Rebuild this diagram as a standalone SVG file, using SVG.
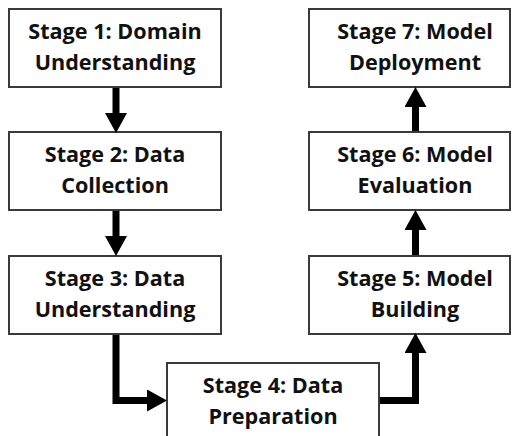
<svg xmlns="http://www.w3.org/2000/svg" width="512" height="436" viewBox="0 0 512 436">
  <style>
    .box { fill: #ffffff; stroke: #3a3a3a; stroke-width: 2; }
    .label { font-family: "Open Sans", Lato, "Liberation Sans", sans-serif; font-weight: 700; font-size: 21.6px; fill: #111111; text-anchor: middle; }
    .flow { fill: none; stroke: #000000; stroke-width: 7; stroke-linejoin: miter; }
  </style>
  <defs>
    <marker id="head" viewBox="0 0 20 22" markerWidth="20" markerHeight="22" markerUnits="userSpaceOnUse" refX="0" refY="11" orient="auto">
      <path d="M0 0 L20 11 L0 22 Z" fill="#000000"/>
    </marker>
  </defs>
  <rect width="512" height="436" fill="#ffffff"/>

  <g id="stage1">
    <rect class="box" x="9" y="9" width="212" height="78"/>
    <text class="label" x="115" y="38.5">Stage 1: Domain</text>
    <text class="label" x="115" y="69.5">Understanding</text>
  </g>
  <g id="stage2">
    <rect class="box" x="9" y="132" width="212" height="78"/>
    <text class="label" x="115" y="162">Stage 2: Data</text>
    <text class="label" x="115" y="193">Collection</text>
  </g>
  <g id="stage3">
    <rect class="box" x="9" y="256" width="212" height="78"/>
    <text class="label" x="115" y="286">Stage 3: Data</text>
    <text class="label" x="115" y="317">Understanding</text>
  </g>
  <g id="stage4">
    <rect class="box" x="167" y="363" width="212" height="82"/>
    <text class="label" x="273" y="393">Stage 4: Data</text>
    <text class="label" x="273" y="424">Preparation</text>
  </g>
  <g id="stage5">
    <rect class="box" x="309" y="256" width="201" height="78"/>
    <text class="label" x="415" y="286">Stage 5: Model</text>
    <text class="label" x="415" y="317">Building</text>
  </g>
  <g id="stage6">
    <rect class="box" x="309" y="132" width="201" height="78"/>
    <text class="label" x="415" y="162">Stage 6: Model</text>
    <text class="label" x="415" y="193">Evaluation</text>
  </g>
  <g id="stage7">
    <rect class="box" x="309" y="9" width="201" height="78"/>
    <text class="label" x="415" y="38.5">Stage 7: Model</text>
    <text class="label" x="415" y="69.5">Deployment</text>
  </g>

  <g id="connectors">
    <path class="flow" d="M116 88 V113" marker-end="url(#head)"/>
    <path class="flow" d="M116 211 V236" marker-end="url(#head)"/>
    <path class="flow" d="M116 335 V400.5 H147" marker-end="url(#head)"/>
    <path class="flow" d="M380 400.5 H415.5 V353" marker-end="url(#head)"/>
    <path class="flow" d="M415.5 255 V230" marker-end="url(#head)"/>
    <path class="flow" d="M415.5 131 V107" marker-end="url(#head)"/>
  </g>
</svg>
